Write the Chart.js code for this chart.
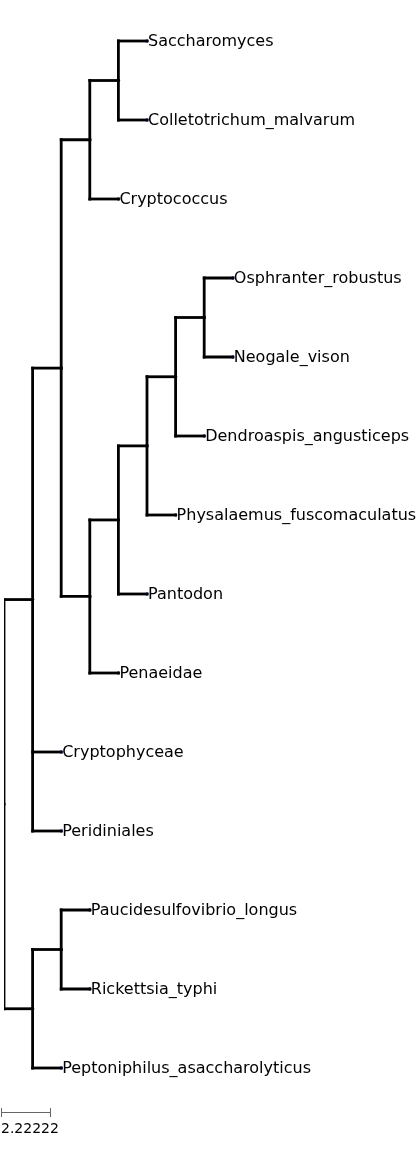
<!DOCTYPE html>
<html>
<head>
<meta charset="utf-8">
<script src="https://cdn.jsdelivr.net/npm/chart.js@4/dist/chart.umd.min.js"></script>
<style>
  html, body { margin: 0; padding: 0; background: #fff; }
  canvas { display: block; }
</style>
</head>
<body>
<canvas id="tree" width="420" height="1158"></canvas>
<script>
// ------------------------------------------------------------
// Données de l'arbre
// ------------------------------------------------------------
const leafNames = [
  'Saccharomyces', 'Colletotrichum_malvarum', 'Cryptococcus',
  'Osphranter_robustus', 'Neogale_vison', 'Dendroaspis_angusticeps',
  'Physalaemus_fuscomaculatus', 'Pantodon', 'Penaeidae',
  'Cryptophyceae', 'Peridiniales',
  'Paucidesulfovibrio_longus', 'Rickettsia_typhi', 'Peptoniphilus_asaccharolyticus'
];
const leafDepths = [5, 5, 4, 8, 8, 7, 6, 5, 4, 2, 2, 3, 3, 2];

// noeuds internes : profondeur + enfants (Lx = feuille, Nx = noeud)
const nodeDepths = [0, 1, 2, 3, 4, 3, 4, 1, 5, 6, 7, 2];
const nodeChildren = [
  ['N1', 'N7'],
  ['N2', 'L9', 'L10'],
  ['N3', 'N5'],
  ['N4', 'L2'],
  ['L0', 'L1'],
  ['N6', 'L8'],
  ['N8', 'L7'],
  ['N11', 'L13'],
  ['N9', 'L6'],
  ['N10', 'L5'],
  ['L3', 'L4'],
  ['L11', 'L12']
];
const scaleLabel = '2.22222';

// ------------------------------------------------------------
// Calcul des positions (profondeur, rang)
// ------------------------------------------------------------
const nodeRow = {};
function rowOf(id) {
  if (id[0] === 'L') return Number(id.slice(1));
  if (nodeRow[id] !== undefined) return nodeRow[id];
  const ch = nodeChildren[Number(id.slice(1))];
  const r = (rowOf(ch[0]) + rowOf(ch[ch.length - 1])) / 2;
  nodeRow[id] = r;
  return r;
}
function depthOf(id) {
  const i = Number(id.slice(1));
  return id[0] === 'L' ? leafDepths[i] : nodeDepths[i];
}

const segments = [];
const dots = [];
nodeChildren.forEach((ch, i) => {
  const id = 'N' + i;
  const d = nodeDepths[i];
  segments.push([{ x: d, y: rowOf(ch[0]) }, { x: d, y: rowOf(ch[ch.length - 1]) }]);
  ch.forEach((c) => {
    segments.push([{ x: d, y: rowOf(c) }, { x: depthOf(c), y: rowOf(c) }]);
  });
  dots.push({ x: d, y: rowOf(id) });
});
leafNames.forEach((n, i) => dots.push({ x: leafDepths[i], y: i }));

const datasets = segments.map((s) => ({
  data: s,
  showLine: true,
  borderColor: '#000',
  borderWidth: 2.8,
  pointRadius: 0,
  borderCapStyle: 'square',
}));
datasets.push({
  data: dots,
  showLine: false,
  pointRadius: 1.8,
  pointBackgroundColor: '#1f3a93',
  pointBorderWidth: 0,
});

// ------------------------------------------------------------
// Plugin : étiquettes + barre d'échelle
// ------------------------------------------------------------
const labelsPlugin = {
  id: 'labels',
  afterDatasetsDraw(chart) {
    const { ctx, scales } = chart;
    ctx.save();
    ctx.font = '16px "DejaVu Sans", Verdana, sans-serif';
    ctx.fillStyle = '#000';
    ctx.textBaseline = 'middle';
    leafNames.forEach((n, i) => {
      ctx.fillText(n, scales.x.getPixelForValue(leafDepths[i]) + 1, scales.y.getPixelForValue(i) + 1);
    });
    // barre d'échelle
    ctx.strokeStyle = '#666';
    ctx.lineWidth = 1;
    ctx.beginPath();
    ctx.moveTo(1, 1112.5); ctx.lineTo(51, 1112.5);
    ctx.moveTo(1.5, 1108); ctx.lineTo(1.5, 1117);
    ctx.moveTo(50.5, 1108); ctx.lineTo(50.5, 1117);
    ctx.stroke();
    ctx.fillStyle = '#000';
    ctx.font = '14px "DejaVu Sans", Verdana, sans-serif';
    ctx.fillText(scaleLabel, 1, 1129);
    ctx.restore();
  },
};

new Chart(document.getElementById('tree'), {
  type: 'scatter',
  data: { datasets },
  options: {
    responsive: false,
    animation: false,
    layout: { padding: 0 },
    plugins: { legend: { display: false }, tooltip: { enabled: false } },
    scales: {
      x: { type: 'linear', display: false, min: 0, max: 412 / 28.6 },
      y: { type: 'linear', display: false, reverse: true, min: -37 / 79, max: -37 / 79 + 1150 / 79 },
    },
  },
  plugins: [labelsPlugin],
});
</script>
</body>
</html>
